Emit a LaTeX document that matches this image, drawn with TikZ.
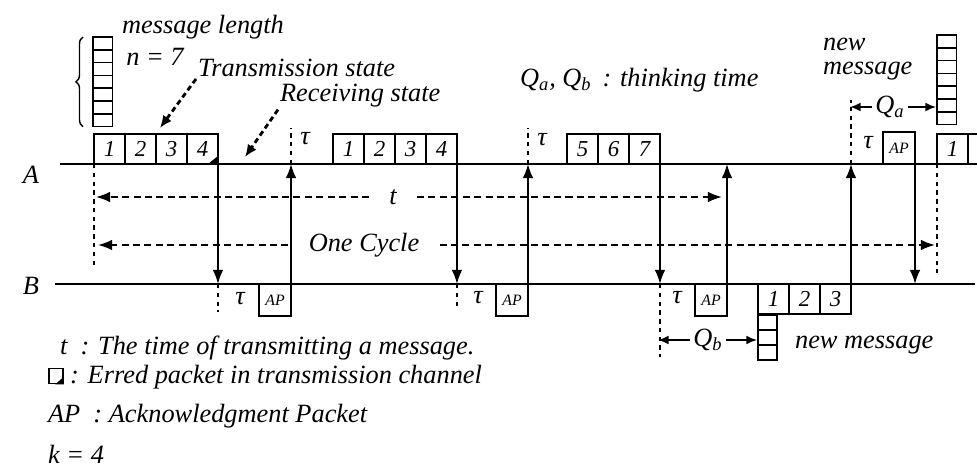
\documentclass[tikz,border=0pt]{standalone}
\usepackage{fontspec}
\setmainfont{Liberation Serif}
\usetikzlibrary{arrows.meta,positioning,decorations.pathreplacing}

\begin{document}
\begin{tikzpicture}[x=0.02cm,y=-0.02cm,
  font=\fontsize{15}{17}\selectfont\itshape,
  every node/.style={inner sep=1pt},
  timeline/.style={line width=1.2pt},
  pkt/.style={draw,line width=0.9pt,rectangle,minimum width=0.62cm,minimum height=0.6cm,inner sep=0pt,outer sep=0pt,font=\fontsize{13}{13}\selectfont\itshape},
  ack/.style={draw,line width=0.9pt,rectangle,minimum width=0.64cm,minimum height=0.64cm,inner sep=0pt,outer sep=0pt,font=\fontsize{9}{9}\selectfont\itshape},
  cell/.style={draw,line width=0.9pt,rectangle,minimum width=0.39cm,minimum height=0.256cm,inner sep=0pt,outer sep=0pt},
  sig/.style={line width=1pt,-{Latex[length=8pt,width=6pt]}},
  dl/.style={line width=1pt,dash pattern=on 4pt off 2.5pt,-{Latex[length=8pt,width=6pt]}},
  vd/.style={line width=1.2pt,dash pattern=on 2.5pt off 2.5pt},
  hint/.style={line width=1.6pt,dash pattern=on 3pt off 2pt,-{Latex[length=7pt,width=6pt]}},
  qarr/.style={line width=1pt,-{Latex[length=6pt,width=5pt]}},
  gap/.style={inner xsep=0.4cm,inner ysep=1pt}]
\useasboundingbox (0,0) rectangle (977,473);

% stations A and B
\coordinate (A0) at (60,164);
\coordinate (A1) at (977,164);
\coordinate (B0) at (55,284);
\coordinate (B1) at (975,284);
\draw[timeline] (A0) -- (A1);
\draw[timeline] (B0) -- (B1);
\node (la) at (31,175) {A};
\node (lb) at (31,286) {B};

% message of n packets
\node[cell,anchor=north west] (m1) at (93,37) {};
\node[cell,below=0pt of m1] (m2) {};
\node[cell,below=0pt of m2] (m3) {};
\node[cell,below=0pt of m3] (m4) {};
\node[cell,below=0pt of m4] (m5) {};
\node[cell,below=0pt of m5] (m6) {};
\node[cell,below=0pt of m6] (m7) {};
\draw[decorate,decoration={brace,amplitude=4pt},line width=0.8pt] ([xshift=-0.2cm]m7.south west) -- ([xshift=-0.2cm]m1.north west);
\node[anchor=west] (len) at (120,27) {message length};
\node (nn) at (155,57) {n = 7};

% first try, k = 4
\node[pkt,anchor=south west] (a1) at (94,164) {1};
\node[pkt,right=0pt of a1] (a2) {2};
\node[pkt,right=0pt of a2] (a3) {3};
\node[pkt,right=0pt of a3] (a4) {4};
\fill (a4.south east) -- ([xshift=-0.2cm]a4.south east) -- ([yshift=0.16cm]a4.south east) -- cycle;

% second try
\node[pkt,anchor=south west] (b1) at (333,164) {1};
\node[pkt,right=0pt of b1] (b2) {2};
\node[pkt,right=0pt of b2] (b3) {3};
\node[pkt,right=0pt of b3] (b4) {4};

% rest of the message
\node[pkt,anchor=south west] (c5) at (567,164) {5};
\node[pkt,right=0pt of c5] (c6) {6};
\node[pkt,right=0pt of c6] (c7) {7};

% acknowledgments
\node[ack,anchor=north east] (ap1) at (291,284) {AP};
\node[ack,anchor=north east] (ap2) at (528,284) {AP};
\node[ack,anchor=north east] (ap3) at (727,284) {AP};
\node[ack,anchor=south east] (ap4) at (915,164) {AP};

% B sends a new message
\node[pkt,anchor=north west] (e1) at (758,284) {1};
\node[pkt,right=0pt of e1] (e2) {2};
\node[pkt,right=0pt of e2] (e3) {3};
\node[cell,anchor=north west,minimum width=0.38cm,minimum height=0.3cm] (n1) at (758,315) {};
\node[cell,below=0pt of n1,minimum width=0.38cm,minimum height=0.3cm] (n2) {};
\node[cell,below=0pt of n2,minimum width=0.38cm,minimum height=0.3cm] (n3) {};
\node[anchor=west] (nmb) at (793,345) {new message};

% A gets a new message
\node[cell,anchor=north west] (q1) at (937,35) {};
\node[cell,below=0pt of q1] (q2) {};
\node[cell,below=0pt of q2] (q3) {};
\node[cell,below=0pt of q3] (q4) {};
\node[cell,below=0pt of q4] (q5) {};
\node[cell,below=0pt of q5] (q6) {};
\node[cell,below=0pt of q6] (q7) {};
\node[anchor=north west,align=left,font=\fontsize{15}{13.5}\selectfont\itshape] (nma) at (821,36) {new\\message};
\node[pkt,anchor=south west] (d1) at (937,164) {1};
\draw[line width=0.9pt] (d1.north east) -- (d1.north east -| A1);

% signals between A and B
\draw[sig] (a4.south east) -- (a4.south east |- B0);
\draw[sig] (ap1.north east) -- (ap1.north east |- A0);
\draw[sig] (b4.south east) -- (b4.south east |- B0);
\draw[sig] (ap2.north east) -- (ap2.north east |- A0);
\draw[sig] (c7.south east) -- (c7.south east |- B0);
\draw[sig] (ap3.north east) -- (ap3.north east |- A0);
\draw[sig] (e3.north east) -- (e3.north east |- A0);
\draw[sig] (ap4.south east) -- (ap4.south east |- B0);

% tau marks
\draw[vd] (ap1.north east |- A0) -- ++(0,-36);
\draw[vd] (ap2.north east |- A0) -- ++(0,-36);
\draw[vd] (e3.north east |- A0) -- ++(0,-64);
\draw[vd] (a4.south east |- B0) -- ++(0,28);
\draw[vd] (b4.south east |- B0) -- ++(0,26);
\draw[vd] (c7.south east |- B0) -- ++(0,73);
\draw[vd] (a1.south west) -- ++(0,103);
\draw[vd] (d1.south west) -- ++(0,109);
\node (ta1) at (305,139) {τ};
\node (ta2) at (542,140) {τ};
\node (ta3) at (868,143) {τ};
\node (tb1) at (240,299) {τ};
\node (tb2) at (478,298) {τ};
\node (tb3) at (677,298) {τ};

% t and one cycle
\coordinate (tL) at (96,197);
\coordinate (tR) at (722,197);
\node[gap] (tt) at (393,197) {t};
\draw[dl] (tt) -- (tL);
\draw[dl] (tt) -- (tR);
\coordinate (cL) at (98,245);
\coordinate (cR) at (935,245);
\node[gap] (cyc) at (364,245) {One Cycle};
\draw[dl] (cyc) -- (cL);
\draw[dl] (cyc) -- (cR);

% thinking times
\coordinate (qaL) at (850,107);
\coordinate (qaR) at (936,107);
\node[inner xsep=2pt] (qa) at (890,107) {Q\textsubscript{a}};
\draw[qarr] (qa) -- (qaL);
\draw[qarr] (qa) -- (qaR);
\coordinate (qbL) at (658,340);
\coordinate (qbR) at (757,340);
\node[inner xsep=2pt] (qb) at (708,340) {Q\textsubscript{b}};
\draw[qarr] (qb) -- (qbL);
\draw[qarr] (qb) -- (qbR);
\node[anchor=west] (think) at (518,80) {Q\textsubscript{a}, Q\textsubscript{b} \,: thinking time};

% states
\node[anchor=west] (trans) at (196,68) {Transmission state};
\coordinate (transTip) at (160,128);
\draw[hint] (trans.south west) -- (transTip);
\node[anchor=west] (recv) at (278,96) {Receiving state};
\coordinate (recvTip) at (245,157);
\draw[hint] (recv.south west) -- (recvTip);

% legend
\node[anchor=west] (lgt) at (58,348) {t \ : The time of transmitting a message.};
\node[draw,line width=0.9pt,minimum width=0.28cm,minimum height=0.3cm,inner sep=0pt] (err) at (56,376) {};
\fill (err.south east) -- ([xshift=-0.17cm]err.south east) -- ([yshift=0.15cm]err.south east) -- cycle;
\node[anchor=west] (lge) at (68,377) {: Erred packet in transmission channel};
\node[anchor=west] (lga) at (46,416) {AP \ : Acknowledgment Packet};
\node[anchor=west] (lgk) at (46,454) {k = 4};
\end{tikzpicture}
\end{document}
